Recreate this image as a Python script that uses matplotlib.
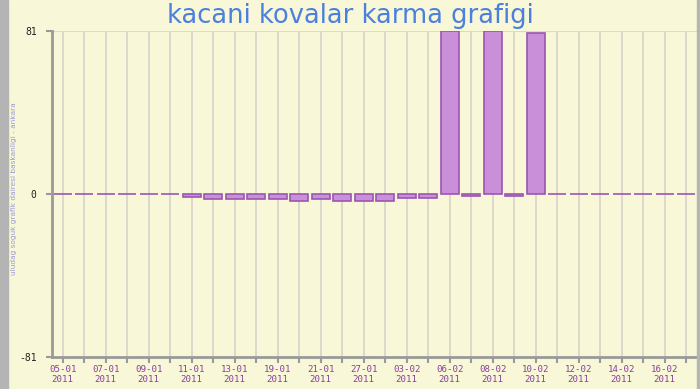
import numpy as np
import matplotlib.pyplot as plt
from matplotlib.patches import Rectangle

# dates shown on the x axis (only every other one is labelled)
dates = ['05-01', '06-01', '07-01', '08-01', '09-01', '10-01', '11-01', '12-01',
         '13-01', '14-01', '19-01', '20-01', '21-01', '24-01', '27-01', '31-01',
         '03-02', '04-02', '06-02', '07-02', '08-02', '09-02', '10-02', '11-02',
         '12-02', '13-02', '14-02', '15-02', '16-02', '17-02']
year = '2011'
values = [0, 0, 0, 0, 0, 0, -1.5, -2.5, -2.5, -2.5, -2.5, -3.5, -2.5, -3.5, -3.5,
          -3.5, -2, -2, 81, -1, 81, -1, 80, 0, 0, 0, 0, 0, 0, 0]
ylimit = 81

bg = '#f8f7d8'
fig = plt.figure(figsize=(7, 3.89), dpi=100, facecolor=bg)
# grey frame on the left and right edges
fig.patches.append(Rectangle((0, 0), 8 / 700, 1, transform=fig.transFigure,
                             color='#b4b4b4', zorder=0))
fig.patches.append(Rectangle((697 / 700, 0), 3 / 700, 1, transform=fig.transFigure,
                             color='#b4b4b4', zorder=0))

ax = fig.add_axes([52 / 700, 1 - 357 / 389, 645 / 700, 326 / 389])
ax.set_facecolor(bg)

x = np.arange(len(dates))
ax.bar(x, values, width=0.84, color='#c98fd9', edgecolor='#9b55b3', linewidth=1.2, zorder=3)

ax.set_xlim(-0.5, len(dates) - 0.5)
ax.set_ylim(-ylimit, ylimit)
ax.set_yticks([-ylimit, 0, ylimit])
ax.set_yticklabels([str(-ylimit), '0', str(ylimit)], fontsize=7, family='DejaVu Sans Mono')
ax.set_xticks(x)
ax.set_xticklabels([d + '\n' + year if i % 2 == 0 else '' for i, d in enumerate(dates)],
                   fontsize=6.6, family='DejaVu Sans Mono', color='#8a3f9c', linespacing=1.1)
ax.tick_params(axis='both', colors='#999999', length=4, width=1.5)
ax.tick_params(axis='x', labelcolor='#8a3f9c', pad=2)
ax.tick_params(axis='y', labelcolor='#222222', pad=7)

ax.grid(axis='x', color='#dcd9cc', linewidth=1.4, zorder=0)
ax.axhline(ylimit, color='#dcd9cc', linewidth=1.5, zorder=0)
for side in ['top', 'right']:
    ax.spines[side].set_visible(False)
for side in ['left', 'bottom']:
    ax.spines[side].set_color('#999999')
    ax.spines[side].set_linewidth(2)

fig.text(0.5, 0.958, 'kacani kovalar karma grafigi', ha='center', va='center',
         fontsize=18.5, color='#4d80de')
fig.text(14 / 700, 0.515, 'uludag soguk grafik dairesi baskanligi - ankara', rotation=90,
         ha='center', va='center', fontsize=5.3, color='#9a9ad6')

fig.savefig('out.png', dpi=100, facecolor=bg)
